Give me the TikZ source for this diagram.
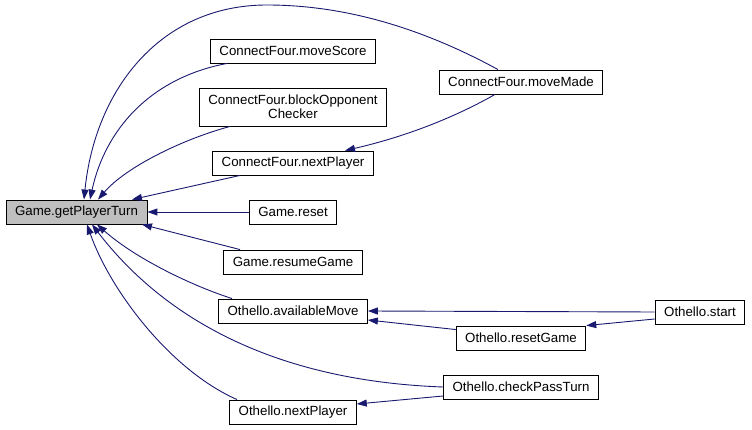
\documentclass[tikz,border=0pt]{standalone}
\usepackage{fontspec}
\setmainfont{Liberation Sans}
\usepackage{xcolor}
\definecolor{edgeBlue}{HTML}{191970}
\definecolor{curBack} {HTML}{BFBFBF}
\usetikzlibrary{arrows.meta, positioning, calc}

\begin{document}
\begin{tikzpicture}[x=1pt, y=-1pt,
    every node/.style={font=\fontsize{13.3}{13.6}\selectfont},
    fn/.style={draw, fill=white, line width=0.9pt, inner xsep=9pt,
               inner ysep=0pt, minimum height=24pt},
    cur/.style={fn, fill=curBack},
    call/.style={edgeBlue, line width=0.9pt,
                 -{Triangle[length=10pt, width=7pt]}}
]
\useasboundingbox (0,0) rectangle (752,430);
% Current function
\node[cur] (gpt) at (76.5, 212) {Game.getPlayerTurn};
% Callers, first column
\node[fn] (mscore) at (293, 51)  {ConnectFour.moveScore};
\node[fn, align=center, minimum height=38pt] (block) at (293, 107)
      {ConnectFour.blockOpponent\\Checker};
\node[fn] (cfnext) at (293, 163) {ConnectFour.nextPlayer};
\node[fn] (reset)  at (293, 212) {Game.reset};
\node[fn] (resume) at (293, 262) {Game.resumeGame};
\node[fn] (avail)  at (293, 311) {Othello.availableMove};
\node[fn] (onext)  at (293, 412) {Othello.nextPlayer};
% Callers, second column
\node[fn] (mmade) at (521, 82)  {ConnectFour.moveMade};
\node[fn] (rgame) at (521, 338) {Othello.resetGame};
\node[fn] (cpass) at (521, 387) {Othello.checkPassTurn};
% Callers, third column
\node[fn] (start) at (700, 312) {Othello.start};
% Edges into Game.getPlayerTurn
\draw[call] ([xshift=-23pt]mmade.north) .. controls (440,38) and (360,5) .. (267,5)
            .. controls (160,5) and (95,90) .. ([xshift=7.5pt]gpt.north);
\draw[call] ([xshift=-66pt]mscore.south) .. controls (150,78) and (105,130) .. ([xshift=13.5pt]gpt.north);
\draw[call] ([xshift=-63pt]block.south) .. controls (180,140) and (125,168) .. ([xshift=21.5pt]gpt.north);
\draw[call] ([xshift=-53pt]cfnext.south) -- ([xshift=55.5pt]gpt.north);
\draw[call] (reset) -- (gpt);
\draw[call] ([xshift=-53pt]resume.north) -- ([xshift=65.5pt]gpt.south);
\draw[call] ([xshift=-61pt]avail.north) .. controls (190,285) and (135,258) .. ([xshift=20.5pt]gpt.south);
\draw[call] (cpass.west) .. controls (250,380) and (150,300) .. ([xshift=15.5pt]gpt.south);
\draw[call] ([xshift=-56pt]onext.north) .. controls (170,370) and (110,290) .. ([xshift=10.5pt]gpt.south);
% Other edges
\draw[call] ([xshift=-26pt]mmade.south) .. controls (450,120) and (400,138) .. ([xshift=52pt]cfnext.north);
\draw[call] (start.west) -- (avail.east);
\draw[call] ([yshift=-4pt]rgame.north west) -- ([yshift=-9pt]avail.east);
\draw[call] ([yshift=-7pt]start.west) -- (rgame.north east);
\draw[call] ([yshift=-9pt]cpass.west) -- ([yshift=8pt]onext.east);
\end{tikzpicture}
\end{document}
